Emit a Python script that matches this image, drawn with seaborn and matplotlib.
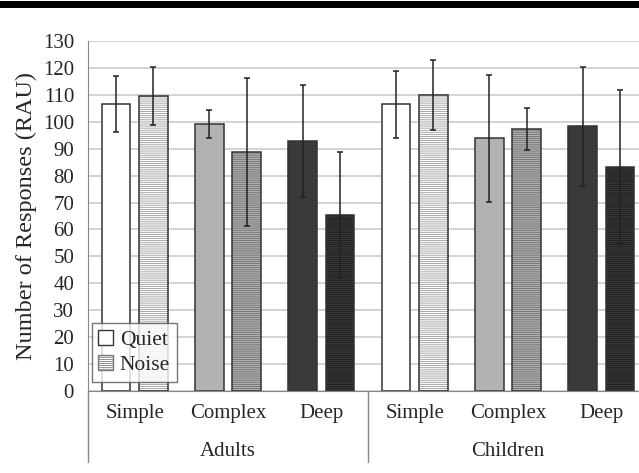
import numpy as np
import pandas as pd
import seaborn as sns
import matplotlib.pyplot as plt
from matplotlib.patches import Rectangle
from matplotlib.transforms import blended_transform_factory

sns.set_style('white')
plt.rcParams['font.family'] = ['Liberation Serif', 'DejaVu Serif']
plt.rcParams['hatch.linewidth'] = 0.6

# data
groups = ['Adults', 'Children']
tasks = ['Simple', 'Complex', 'Deep']
conditions = ['Quiet', 'Noise']
quiet_vals = [106.6, 99.0, 92.8, 106.5, 93.8, 98.3]
noise_vals = [109.5, 88.7, 65.4, 110.0, 97.3, 83.2]
quiet_err = [10.4, 5.2, 20.7, 12.5, 23.5, 22.0]
noise_err = [10.8, 27.6, 23.4, 13.0, 7.9, 28.5]

task_colors = {'Simple': '#ffffff', 'Complex': '#b2b2b2', 'Deep': '#3a3a3a'}
hatch_colors = {'Simple': '#9a9a9a', 'Complex': '#6e6e6e', 'Deep': '#1a1a1a'}

cats = [f'{g}-{t}' for g in groups for t in tasks]
df = pd.DataFrame({
    'cat': cats * 2,
    'cond': ['Quiet'] * 6 + ['Noise'] * 6,
    'value': quiet_vals + noise_vals,
})

fig = plt.figure(figsize=(6.39, 4.73), dpi=100)
ax = fig.add_axes([88 / 639, 1 - 391 / 473, 560 / 639, 350 / 473])

sns.barplot(data=df, x='cat', y='value', hue='cond', order=cats,
            hue_order=conditions, errorbar=None, width=0.8, gap=0.236,
            ax=ax, legend=False)

errs = {'Quiet': quiet_err, 'Noise': noise_err}
vals = {'Quiet': quiet_vals, 'Noise': noise_vals}
for cont, cond in zip(ax.containers, conditions):
    xs = []
    for i, p in enumerate(cont.patches):
        task = tasks[i % 3]
        p.set_facecolor(task_colors[task])
        xs.append(p.get_x() + p.get_width() / 2)
        if cond == 'Noise':
            p.set_hatch('--------')
            p.set_edgecolor(hatch_colors[task])
            p.set_linewidth(0)
            ax.add_patch(Rectangle(p.get_xy(), p.get_width(), p.get_height(),
                                   fill=False, edgecolor='#333333', lw=1.1, zorder=3))
        else:
            p.set_edgecolor('#333333')
            p.set_linewidth(1.1)
    ax.errorbar(xs, vals[cond], yerr=errs[cond], fmt='none', ecolor='#222222',
                elinewidth=1.1, capsize=2.5, capthick=1.1, zorder=4)

ax.set_ylim(0, 130)
ax.set_xlim(-0.5, 5.5)
ax.set_yticks(np.arange(0, 131, 10))
ax.yaxis.grid(True, color='#d0d0d0', lw=1.3)
ax.set_axisbelow(True)
ax.tick_params(axis='y', labelsize=15, length=0, pad=10)
ax.tick_params(axis='x', labelsize=15, length=0, pad=9)
ax.set_xticks(range(6))
ax.set_xticklabels(tasks * 2)
ax.set_xlabel('')
ax.set_ylabel('Number of Responses (RAU)', fontsize=17.5, labelpad=4)
for s in ['top', 'right']:
    ax.spines[s].set_visible(False)
ax.spines['left'].set_color('#888888')
ax.spines['bottom'].set_color('#888888')

# group labels and separators under the axis
tr = blended_transform_factory(ax.transData, ax.transAxes)
for k, g in enumerate(groups):
    ax.text(3 * k + 1, -0.172, g, transform=tr, ha='center', va='center', fontsize=15)
for xsep in [-0.5, 2.5, 5.5]:
    ax.plot([xsep, xsep], [0, -0.203], transform=tr, color='#888888', lw=1, clip_on=False)

# legend
handles = [Rectangle((0, 0), 1, 1, facecolor='white', edgecolor='#333333', lw=1),
           Rectangle((0, 0), 1, 1, facecolor='white', edgecolor='#777777', lw=1, hatch='--------')]
ax.legend(handles, conditions, loc='lower left', bbox_to_anchor=(0.007, 0.027),
          fontsize=15.5, frameon=True, fancybox=False, edgecolor='#555555',
          handlelength=0.7, handleheight=0.7, handletextpad=0.3, borderpad=0.3,
          labelspacing=0.25, borderaxespad=0)

# thick rule at the top of the page
fig.patches.append(Rectangle((0, 1 - 8 / 473), 1, 7 / 473, transform=fig.transFigure,
                             facecolor='black', edgecolor='none'))

fig.savefig('out.png', dpi=100)
